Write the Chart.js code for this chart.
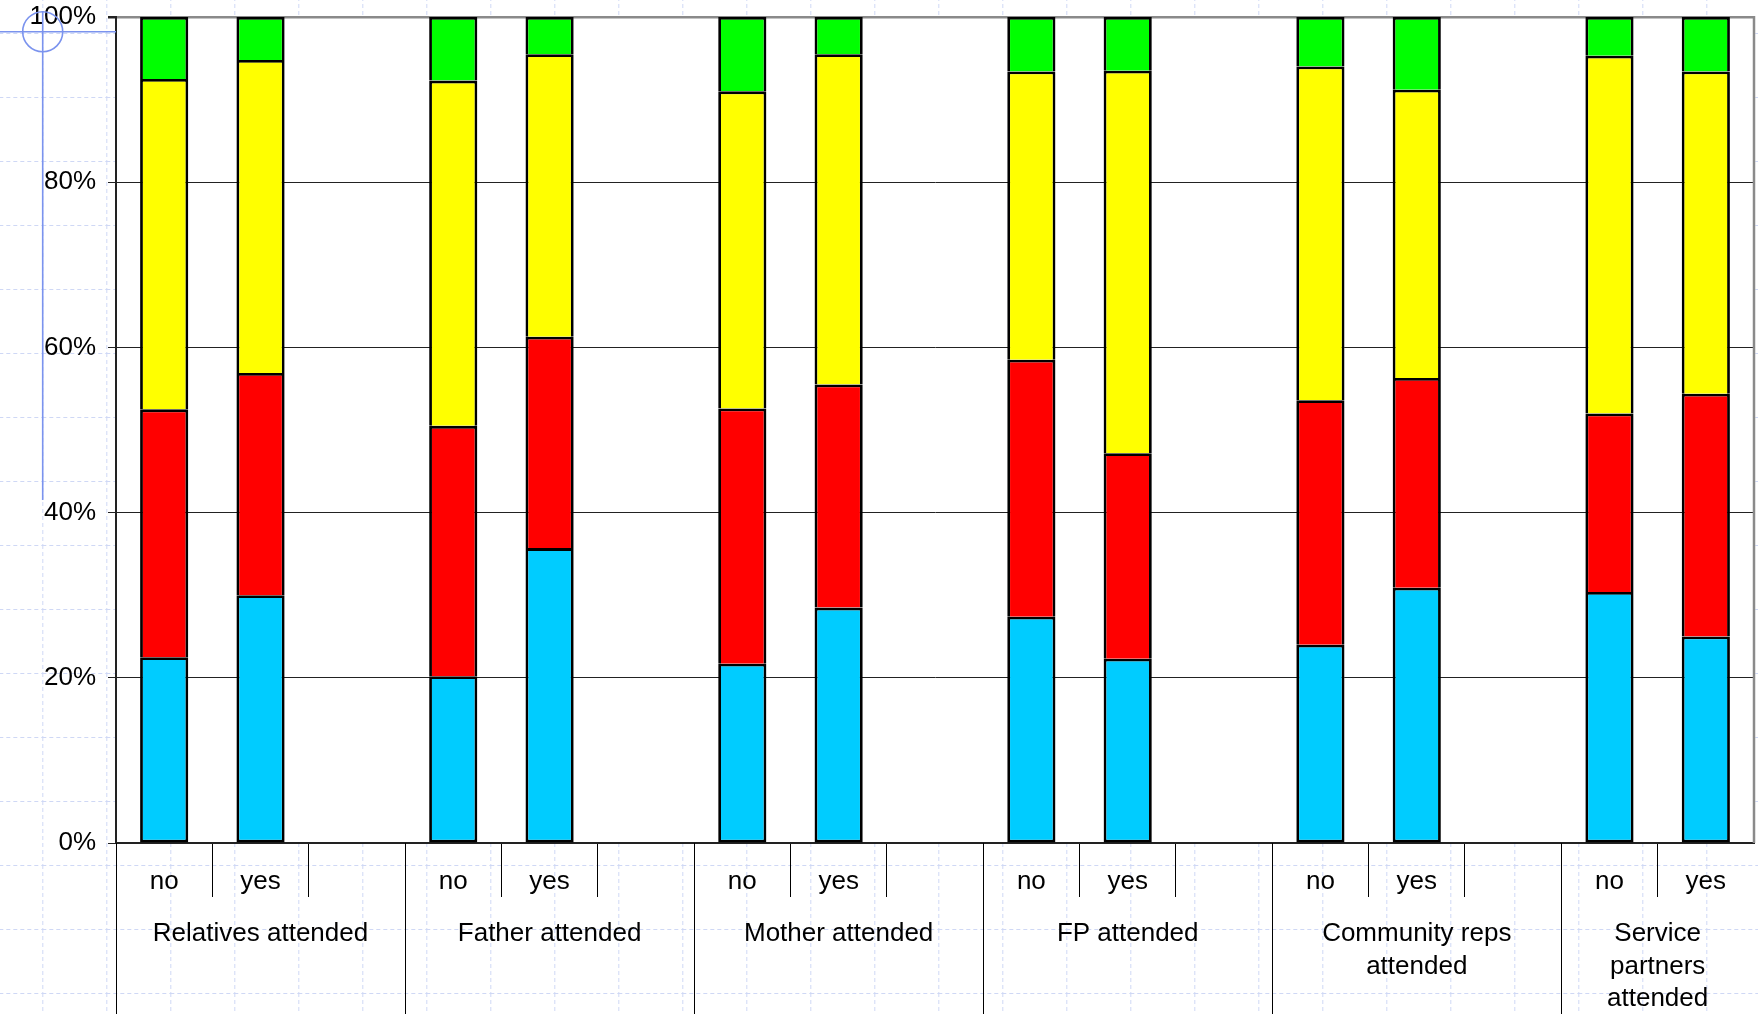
<!DOCTYPE html>
<html><head><meta charset="utf-8">
<script src="https://cdn.jsdelivr.net/npm/chart.js@4/dist/chart.umd.min.js"></script>
<style>
html,body{margin:0;padding:0;background:#fff;}
#wrap{position:relative;width:1758px;height:1014px;overflow:hidden;}
#bg,#ov{position:absolute;left:0;top:0;pointer-events:none;}
#c{position:absolute;left:0;top:0;}
</style></head><body>
<div id="wrap">
<svg id="bg" width="1758" height="1014">
 <defs><pattern id="g" x="42.3" y="33" width="64" height="64" patternUnits="userSpaceOnUse">
  <line x1="0" y1="0.5" x2="64" y2="0.5" stroke="#cfd8f5" stroke-width="1" stroke-dasharray="4 3"/>
  <line x1="0.5" y1="0" x2="0.5" y2="64" stroke="#cfd8f5" stroke-width="1" stroke-dasharray="4 3"/>
 </pattern></defs>
 <rect width="1758" height="1014" fill="url(#g)"/>
</svg>
<canvas id="c" width="1758" height="1014"></canvas>
<svg id="ov" width="1758" height="1014">
 <g stroke="#7b93ee" stroke-width="1.6" fill="none">
  <line x1="0" y1="31.7" x2="116" y2="31.7"/>
  <line x1="42.7" y1="11" x2="42.7" y2="500"/>
  <circle cx="42.7" cy="31.7" r="20"/>
 </g>
</svg>
</div>
<script>
// ---- data ----
const categories = ['no','yes','','no','yes','','no','yes','','no','yes','','no','yes','','no','yes'];
const groupLabels = [['Relatives attended'],['Father attended'],['Mother attended'],['FP attended'],['Community reps','attended'],['Service','partners','attended']];
const groupStarts = [0,3,6,9,12,15];
const groupEnds = [3,6,9,12,15,17];
const cyanValues   = [22.5,30.0,null,20.2,35.7,null,21.7,28.5,null,27.4,22.3,null,24.0,30.9,null,30.4,25.0];
const redValues    = [30.0,26.9,null,30.3,25.6,null,30.9,27.0,null,31.1,24.9,null,29.6,25.4,null,21.6,29.4];
const yellowValues = [40.0,37.9,null,41.8,34.2,null,38.4,40.0,null,34.9,46.3,null,40.4,34.9,null,43.3,39.0];
const greenValues  = [7.5,5.2,null,7.7,4.5,null,9.0,4.5,null,6.6,6.5,null,6.0,8.8,null,4.7,6.6];
const yTickValues = [0,20,40,60,80,100];

const FONT = '"Liberation Sans", Arial, sans-serif';
const FS = 26;

const bg = {
  id:'bgfill',
  beforeDraw(chart){
    const {ctx, chartArea:a} = chart;
    ctx.save(); ctx.fillStyle='#fff'; ctx.fillRect(a.left,a.top,a.right-a.left,a.bottom-a.top); ctx.restore();
  }
};
const groups = {
  id:'groups',
  afterDraw(chart){
    const {ctx, chartArea:a} = chart;
    const xs = chart.scales.x;
    const w = xs.getPixelForValue(1) - xs.getPixelForValue(0);
    const bnd = i => xs.getPixelForValue(i) - w/2;
    ctx.save();
    ctx.strokeStyle='#8a8a8a'; ctx.lineWidth=2.5;
    ctx.beginPath(); ctx.moveTo(a.right, a.top-1); ctx.lineTo(a.right, a.bottom); ctx.stroke();
    ctx.strokeStyle='#000'; ctx.lineWidth=1;
    groupStarts.forEach(s=>{
      const x = Math.round(bnd(s))+0.5;
      ctx.beginPath(); ctx.moveTo(x, a.bottom); ctx.lineTo(x, chart.height); ctx.stroke();
    });
    ctx.fillStyle='#000'; ctx.font = FS+'px '+FONT; ctx.textAlign='center'; ctx.textBaseline='middle';
    groupLabels.forEach((lines,gi)=>{
      const cx = (bnd(groupStarts[gi]) + bnd(groupEnds[gi]))/2;
      lines.forEach((t,li)=> ctx.fillText(t, cx, a.bottom + 91 + li*32.5));
    });
    ctx.restore();
  }
};

const mk = (label, data, color, bottom) => ({
  label, data, backgroundColor: color, borderColor:'#000',
  borderWidth: {left:2.8,right:2.8,top:2.8,bottom: bottom?2.8:0}, borderSkipped:false,
  barPercentage:0.5, categoryPercentage:1
});

new Chart(document.getElementById('c'), {
  type:'bar',
  data:{ labels: categories, datasets:[
    mk('Series 1', cyanValues, '#00CCFF', true),
    mk('Series 2', redValues, '#FF0000', false),
    mk('Series 3', yellowValues, '#FFFF00', false),
    mk('Series 4', greenValues, '#00FF00', false)
  ]},
  options:{
    responsive:false, animation:false, devicePixelRatio:1,
    layout:{autoPadding:false, padding:{top:17,right:4,left:0,bottom:0}},
    plugins:{legend:{display:false}, tooltip:{enabled:false}},
    scales:{
      x:{ stacked:true,
        grid:{offset:true, drawOnChartArea:false, tickLength:54, tickWidth:1,
              tickColor: c => c.index===undefined ? 'rgba(0,0,0,0)' : '#000'},
        border:{color:'#222', width:2},
        ticks:{font:{size:FS,family:FONT}, color:'#000', padding:-31, autoSkip:false, maxRotation:0},
        afterFit: s => { s.height = 171; }
      },
      y:{ stacked:true, min:0, max:100,
        afterBuildTicks: s => { s.ticks = yTickValues.map(v=>({value:v})); },
        ticks:{callback: v => v+'%', font:{size:FS,family:FONT,lineHeight:0.1}, color:'#000', padding:12},
        grid:{ color: c => (c.tick && c.tick.value===100) ? '#8a8a8a' : '#222',
               lineWidth: c => (c.tick && c.tick.value===100) ? 2.5 : 1,
               tickLength:8, tickColor:'#222'},
        border:{color:'#222', width:2},
        afterFit: s => { s.width = 116; }
      }
    }
  },
  plugins:[bg, groups]
});
</script>
</body></html>
